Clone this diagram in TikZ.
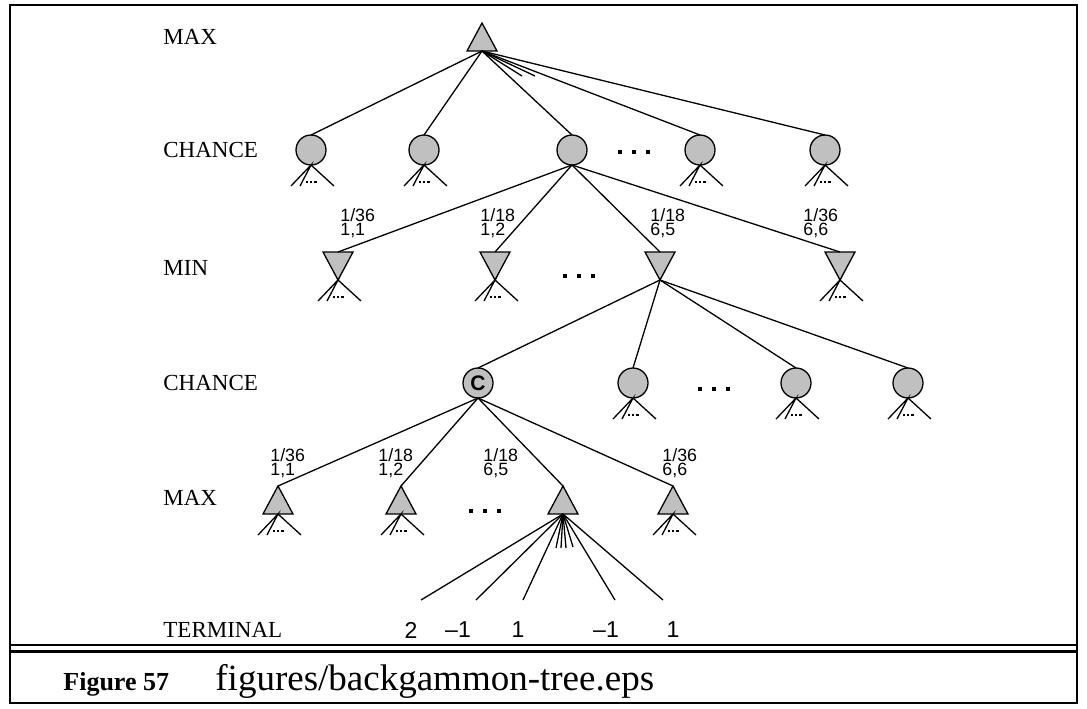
\documentclass[tikz,border=0pt]{standalone}
\usepackage{fontspec}
\setmainfont{Liberation Serif}
\newfontfamily\arialf{Liberation Sans}
\definecolor{lightg}{RGB}{192,192,192}
\begin{document}
\begin{tikzpicture}[x=0.5pt,y=-0.5pt,
  edge/.style={draw,line width=0.65pt},
  tri/.style={draw,fill=lightg,line width=0.65pt,line join=miter},
  chance/.style={circle,draw,fill=lightg,line width=0.65pt,minimum size=15pt,inner sep=0pt,outer sep=0pt},
  rowlab/.style={anchor=west,inner sep=0pt,font=\fontsize{11.5}{13}\selectfont},
  prob/.style={anchor=base west,inner sep=0pt,font=\arialf\fontsize{8.9}{10}\selectfont},
  term/.style={inner sep=0pt,font=\arialf\fontsize{11.5}{13}\selectfont},
  stub/.pic={\draw[edge] (-20,21) -- (0,0) -- (-11,21) (0,0) -- (23,21);
    \foreach \d in {-4.2,0,4.2}{\fill (\d-1.3,15.7) rectangle (\d+1.3,18.3);}},
  bigdots/.pic={\foreach \d in {-14,0,14}{\fill (\d-2,-2) rectangle (\d+2,2);}},
  maxtri/.pic={\draw[tri] (0,0) -- (15,28) -- (-15,28) -- cycle;
    \coordinate (-apex) at (0,0); \coordinate (-base) at (0,28);},
  mintri/.pic={\draw[tri] (-15,0) -- (15,0) -- (0,28) -- cycle;
    \coordinate (-top) at (0,0); \coordinate (-apex) at (0,28);}
]
\useasboundingbox (0,0) rectangle (1087,708);
% frame
\draw[line width=1.15pt] (10,5) rectangle (1077,703);
\draw[line width=0.65pt] (10,645) -- (1077,645);
\draw[line width=1.5pt] (10,651) -- (1077,651);

% row labels
\node[rowlab] (l1) at (163,37) {MAX};
\node[rowlab] (l2) at (163,150) {CHANCE};
\node[rowlab] (l3) at (163,268) {MIN};
\node[rowlab] (l4) at (163,383) {CHANCE};
\node[rowlab] (l5) at (163,498) {MAX};
\node[rowlab] (l6) at (163,630) {TERMINAL};

% level 0
\pic (m0) at (482,23) {maxtri};
% level 1 chance
\node[chance] (c1) at (311,150) {};
\node[chance] (c2) at (424,150) {};
\node[chance] (c3) at (572,150) {};
\node[chance] (c4) at (700,150) {};
\node[chance] (c5) at (825,150) {};
\pic at (634,152) {bigdots};
\coordinate (f1) at (522,76);
\coordinate (f2) at (535,76);
\foreach \n in {c1,c2,c3,c4,c5} {\draw[edge] (m0-base) -- (\n.north);}
\draw[edge] (m0-base) -- (f1);
\draw[edge] (m0-base) -- (f2);
\foreach \n in {c1,c2,c4,c5} {\pic at (\n.south) {stub};}

% level 2 min
\pic (n1) at (338,252) {mintri};
\pic (n2) at (495,252) {mintri};
\pic (n3) at (660,252) {mintri};
\pic (n4) at (840,252) {mintri};
\pic at (579,276) {bigdots};
\foreach \n in {n1,n2,n3,n4} {\draw[edge] (c3.south) -- (\n-top);}
\foreach \n in {n1,n2,n4} {\pic at (\n-apex) {stub};}
\node[prob] (p1a) at (340,221) {1/36};
\node[prob] (p1b) at (340,235) {1,1};
\node[prob] (p2a) at (480,221) {1/18};
\node[prob] (p2b) at (480,235) {1,2};
\node[prob] (p3a) at (650,221) {1/18};
\node[prob] (p3b) at (650,235) {6,5};
\node[prob] (p4a) at (803,221) {1/36};
\node[prob] (p4b) at (803,235) {6,6};

% level 3 chance
\node[chance,font=\arialf\bfseries\fontsize{10.5}{12}\selectfont] (d1) at (478,383) {C};
\node[chance] (d2) at (633,383) {};
\node[chance] (d3) at (796,383) {};
\node[chance] (d4) at (908,383) {};
\pic at (714,389) {bigdots};
\foreach \n in {d1,d2,d3,d4} {\draw[edge] (n3-apex) -- (\n.north);}
\foreach \n in {d2,d3,d4} {\pic at (\n.south) {stub};}

% level 4 max
\pic (x1) at (278,486) {maxtri};
\pic (x2) at (401,486) {maxtri};
\pic (x3) at (563,486) {maxtri};
\pic (x4) at (673,486) {maxtri};
\pic at (485,511) {bigdots};
\foreach \n in {x1,x2,x3,x4} {\draw[edge] (d1.south) -- (\n-apex);}
\foreach \n in {x1,x2,x4} {\pic at (\n-base) {stub};}
\node[prob] (q1a) at (270,461) {1/36};
\node[prob] (q1b) at (270,475) {1,1};
\node[prob] (q2a) at (378,461) {1/18};
\node[prob] (q2b) at (378,475) {1,2};
\node[prob] (q3a) at (483,461) {1/18};
\node[prob] (q3b) at (483,475) {6,5};
\node[prob] (q4a) at (662,461) {1/36};
\node[prob] (q4b) at (662,475) {6,6};

% terminals
\coordinate (t1) at (421,600);
\coordinate (t2) at (476,600);
\coordinate (t3) at (523,600);
\coordinate (t4) at (615,600);
\coordinate (t5) at (663,600);
\coordinate (s1) at (556,548);
\coordinate (s2) at (561,548);
\coordinate (s3) at (566,548);
\coordinate (s4) at (573,547);
\foreach \n in {t1,t2,t3,t4,t5,s1,s2,s3,s4} {\draw[edge] (x3-base) -- (\n);}
\node[term] (v1) at (411,630) {2};
\node[term] (v2) at (458,630) {–1};
\node[term] (v3) at (518,630) {1};
\node[term] (v4) at (606,630) {–1};
\node[term] (v5) at (673,630) {1};

% caption
\node[anchor=base west,inner sep=0pt,font=\bfseries\fontsize{13}{15}\selectfont] (fig) at (63,690) {Figure 57};
\node[anchor=base west,inner sep=0pt,font=\fontsize{18.5}{21}\selectfont] (cap) at (215,690) {figures/backgammon-tree.eps};
\end{tikzpicture}
\end{document}
